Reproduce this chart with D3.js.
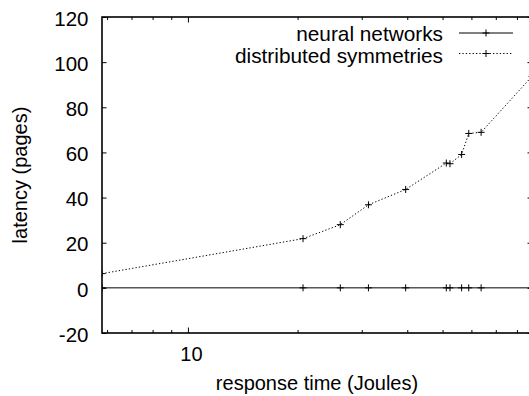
<!DOCTYPE html>
<html>
<head>
<meta charset="utf-8">
<script src="https://cdn.jsdelivr.net/npm/d3@7"></script>
<style>
  html, body { margin: 0; padding: 0; background: #fff; }
  svg { display: block; }
  text { font-family: "Liberation Sans", Arial, Helvetica, sans-serif; fill: #000; }
</style>
</head>
<body>
<svg id="chart" width="529" height="396"></svg>
<script>
// Measured response time (Joules) for each run, log-scaled on the x axis
const responseTime = [5.81, 20.7, 26.2, 31.3, 39.6, 51.2, 52.4, 56.4, 59.0, 63.8, 88.0];
// Latency (pages) per series
const neuralNetworks = [0, 0, 0, 0, 0, 0, 0, 0, 0, 0, 0];
const distributedSymmetries = [6.3, 21.8, 28.0, 36.8, 43.6, 55.3, 55.0, 59.1, 68.4, 68.9, 93.7];
const seriesNames = ["neural networks", "distributed symmetries"];
// Axis ticks
const yTicks = [-20, 0, 20, 40, 60, 80, 100, 120];
const xMajorTicks = [10];
const xMinorTicks = [6, 7, 8, 9, 20, 30, 40, 50, 60, 70, 80];

const svg = d3.select("#chart");
const plot = { left: 102, right: 532, top: 17, bottom: 333 };

const x = d3.scaleLog().domain([5.81, 88.0]).range([plot.left, plot.right]);
const y = d3.scaleLinear().domain([-20, 120]).range([plot.bottom, plot.top]);

// plain ASCII hyphen for negatives
const intFmt = d => String(Math.round(d));

svg.append("defs").append("clipPath").attr("id", "plot-clip")
  .append("rect")
  .attr("x", plot.left).attr("y", plot.top)
  .attr("width", plot.right - plot.left).attr("height", plot.bottom - plot.top);

// --- Axes (ticks drawn inward, mirrored on opposite sides) ---
function styleAxis(g) {
  g.select(".domain").remove();
  g.selectAll(".tick line").attr("stroke", "#000").attr("stroke-width", 1);
  g.selectAll(".tick text")
    .attr("font-size", 20.5)
    .attr("font-family", "Liberation Sans, Arial, Helvetica, sans-serif")
    .attr("fill", "#000");
}

// y axis, left
svg.append("g")
  .attr("transform", `translate(${plot.left},0)`)
  .call(d3.axisLeft(y).tickValues(yTicks).tickSize(-4.5).tickPadding(13.5).tickFormat(intFmt))
  .call(styleAxis)
  .call(g => g.selectAll(".tick text").attr("dy", "0.4em"));

// y axis, right mirror
svg.append("g")
  .attr("transform", `translate(${plot.right},0)`)
  .call(d3.axisRight(y).tickValues(yTicks).tickSize(-4.5).tickFormat(""))
  .call(styleAxis);

// x axis, bottom: major with label, minor without
svg.append("g")
  .attr("transform", `translate(0,${plot.bottom})`)
  .call(d3.axisBottom(x).tickValues(xMajorTicks).tickSize(-5.5).tickPadding(14).tickFormat(intFmt))
  .call(styleAxis)
  .call(g => g.selectAll(".tick text").attr("dx", 3).attr("font-size", 20));

svg.append("g")
  .attr("transform", `translate(0,${plot.bottom})`)
  .call(d3.axisBottom(x).tickValues(xMinorTicks).tickSize(-3).tickFormat(""))
  .call(styleAxis);

// x axis, top mirror
svg.append("g")
  .attr("transform", `translate(0,${plot.top})`)
  .call(d3.axisTop(x).tickValues(xMajorTicks).tickSize(-5.5).tickFormat(""))
  .call(styleAxis);

svg.append("g")
  .attr("transform", `translate(0,${plot.top})`)
  .call(d3.axisTop(x).tickValues(xMinorTicks).tickSize(-3).tickFormat(""))
  .call(styleAxis);

// --- Series ---
const line = d3.line().x(d => x(d[0])).y(d => y(d[1]));
const styles = [
  { dash: null },
  { dash: "1.3,2.1" }
];
const seriesData = [neuralNetworks, distributedSymmetries];

const plotArea = svg.append("g").attr("clip-path", "url(#plot-clip)");

function plus(g, cx, cy) {
  const s = 3.5;
  g.append("path")
    .attr("d", `M${cx - s},${cy}H${cx + s}M${cx},${cy - s}V${cy + s}`)
    .attr("stroke", "#000").attr("stroke-width", 1).attr("fill", "none");
}

seriesData.forEach((vals, i) => {
  const pts = responseTime.map((t, k) => [t, vals[k]]);
  plotArea.append("path")
    .attr("d", line(pts))
    .attr("fill", "none")
    .attr("stroke", "#000")
    .attr("stroke-width", 1)
    .attr("stroke-dasharray", styles[i].dash);
  const mg = plotArea.append("g");
  pts.forEach(p => plus(mg, x(p[0]), y(p[1])));
});

// --- Plot border ---
svg.append("rect")
  .attr("x", plot.left).attr("y", plot.top)
  .attr("width", plot.right - plot.left).attr("height", plot.bottom - plot.top)
  .attr("fill", "none").attr("stroke", "#000").attr("stroke-width", 1.6);

// --- Key ---
const key = svg.append("g");
const keyRows = [
  { sampleY: 33, textY: 41 },
  { sampleY: 53.5, textY: 62.5 }
];
seriesNames.forEach((name, i) => {
  key.append("text")
    .attr("x", 443).attr("y", keyRows[i].textY)
    .attr("text-anchor", "end").attr("font-size", 20.8)
    .text(name);
  key.append("line")
    .attr("x1", 459).attr("x2", 513)
    .attr("y1", keyRows[i].sampleY).attr("y2", keyRows[i].sampleY)
    .attr("stroke", "#000").attr("stroke-width", 1)
    .attr("stroke-dasharray", styles[i].dash);
  plus(key, 486, keyRows[i].sampleY);
});

// --- Axis titles ---
svg.append("text")
  .attr("x", (plot.left + plot.right) / 2).attr("y", 390)
  .attr("text-anchor", "middle").attr("font-size", 20)
  .text("response time (Joules)");

svg.append("text")
  .attr("transform", `translate(27,${(plot.top + plot.bottom) / 2}) rotate(-90)`)
  .attr("text-anchor", "middle").attr("font-size", 20)
  .text("latency (pages)");
</script>
</body>
</html>
